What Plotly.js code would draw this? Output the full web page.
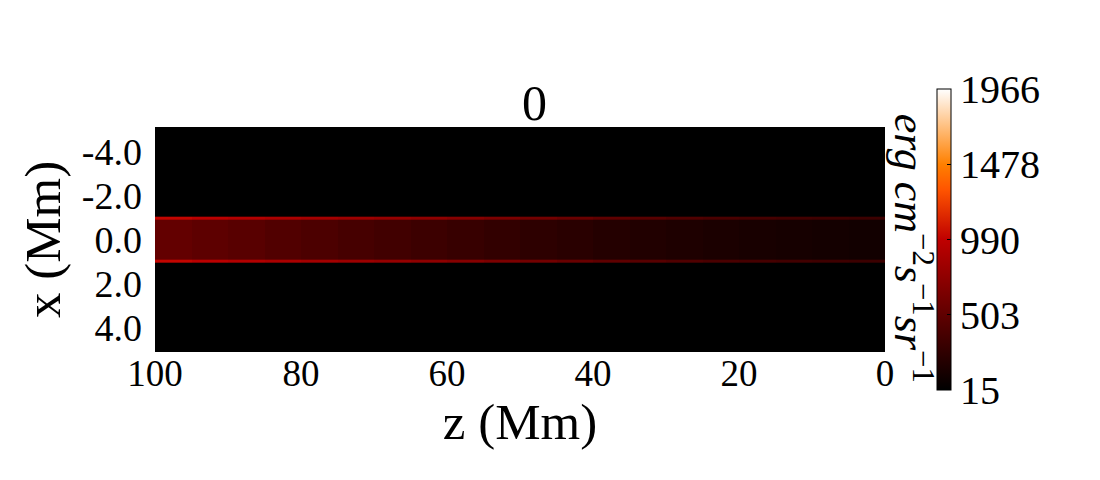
<!DOCTYPE html>
<html>
<head>
<meta charset="utf-8">
<script src="https://cdn.plot.ly/plotly-3.0.1.min.js"></script>
<style>
  html, body { margin: 0; padding: 0; background: #fff; }
  #chart { width: 1100px; height: 480px; }
</style>
</head>
<body>
<div id="chart"></div>
<script>
// column edges along the loop (z, Mm)
const zEdges = [100, 95, 90, 85, 80, 75, 70, 65, 60, 55, 50, 45, 40, 35, 30, 25, 20, 15, 10, 5, 0];
// row edges across the loop (x, Mm): background, edge, core, edge, background
const xEdges = [-5.2, -1.06, -0.92, 0.92, 1.06, 5.2];

// intensity (erg cm^-2 s^-1 sr^-1)
const background = [15, 15, 15, 15, 15, 15, 15, 15, 15, 15, 15, 15, 15, 15, 15, 15, 15, 15, 15, 15];
const coreIntensity = [520, 490, 462, 430, 402, 372, 345, 320, 296, 270, 246, 222, 200, 182, 166, 151, 138, 126, 116, 108];
const edgeIntensity = [1010, 970, 930, 890, 852, 815, 780, 745, 700, 650, 600, 550, 502, 462, 425, 395, 370, 350, 335, 322];

const cbTicks = [15, 503, 990, 1478, 1966];
const yTickVals = [-4, -2, 0, 2, 4];
const yTickText = ['-4.0', '-2.0', '0.0', '2.0', '4.0'];
const xTickVals = [100, 80, 60, 40, 20, 0];

const zMatrix = [background, edgeIntensity, coreIntensity, edgeIntensity, background];

// gist_heat
const gistHeat = [
  [0, 'rgb(0,0,0)'],
  [0.5, 'rgb(191,0,0)'],
  [0.6667, 'rgb(255,85,0)'],
  [0.75, 'rgb(255,128,0)'],
  [1, 'rgb(255,255,255)']
];

const serif = 'Liberation Serif, Times New Roman, serif';

const trace = {
  type: 'heatmap',
  x: zEdges,
  y: xEdges,
  z: zMatrix,
  zmin: 15,
  zmax: 1966,
  colorscale: gistHeat,
  zsmooth: false,
  hoverinfo: 'skip',
  colorbar: {
    x: 1.071,
    xanchor: 'left',
    y: 0.5,
    yanchor: 'middle',
    len: 1.338,
    lenmode: 'fraction',
    thickness: 14,
    thicknessmode: 'pixels',
    outlinecolor: '#000',
    outlinewidth: 1,
    tickvals: cbTicks,
    ticktext: cbTicks.map(String),
    ticks: 'inside',
    ticklen: 4,
    tickcolor: '#000',
    ticklabelstandoff: -10,
    tickfont: {family: serif, size: 40, color: '#000'},
    xpad: 0,
    ypad: 0
  }
};

const layout = {
  width: 1100,
  height: 480,
  margin: {l: 155, r: 215, t: 127, b: 128},
  paper_bgcolor: '#fff',
  plot_bgcolor: '#000',
  font: {family: serif, color: '#000'},
  xaxis: {
    range: [100, 0],
    tickvals: xTickVals,
    ticks: '',
    showgrid: false,
    zeroline: false,
    tickfont: {size: 37},
    ticklabelstandoff: -4,
    title: {text: 'z (Mm)', font: {size: 51}, standoff: 0}
  },
  yaxis: {
    range: [5.12, -5.14],
    tickvals: yTickVals,
    ticktext: yTickText,
    ticks: '',
    showgrid: false,
    zeroline: false,
    tickfont: {size: 38},
    ticklabelstandoff: 12,
    title: {text: 'x (Mm)', font: {size: 51}, standoff: 4}
  },
  annotations: [
    {
      text: '0', xref: 'paper', yref: 'paper', x: 0.52, y: 1,
      xanchor: 'center', yanchor: 'bottom', showarrow: false,
      font: {size: 50}, yshift: -6
    },
    {
      text: '<i>erg cm</i><sup>−2</sup><i>s</i><sup>−1</sup><i>sr</i><sup>−1</sup>',
      xref: 'paper', yref: 'paper', x: 1.038, y: 0.46,
      xanchor: 'center', yanchor: 'middle', textangle: 90, showarrow: false,
      font: {size: 44}
    }
  ]
};

Plotly.newPlot('chart', [trace], layout, {displayModeBar: false, staticPlot: true});
</script>
</body>
</html>
